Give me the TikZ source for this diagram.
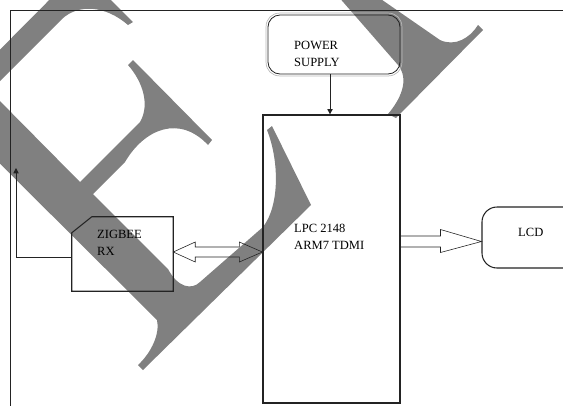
\documentclass[tikz,border=0pt]{standalone}
\usepackage{fontspec}
\setmainfont{Liberation Serif}
\usepackage{tikz}
\usetikzlibrary{positioning,arrows.meta,calc}
\definecolor{markgray}{RGB}{128,128,128}
\definecolor{edgegray}{RGB}{35,35,35}

\begin{document}
\begin{tikzpicture}[x=0.3mm,y=-0.3mm,
    blk/.style={draw=edgegray,line width=0.9pt,inner sep=0pt},
    txt/.style={font=\fontsize{10.7}{14}\selectfont,align=left,inner sep=0pt,anchor=base west},
    thinarrow/.style={draw=edgegray,line width=0.7pt,-{Triangle[width=4.5pt,length=4.5pt]}},
    blockarrow/.style={draw=edgegray,line width=0.5pt,line join=miter}]
    \clip (0,0) rectangle (563,405);

    % watermark letters
    \fill[markgray] (-57,107) -- (157,320) .. controls (160,333) and (152,352) .. (138,365)
      -- (143,370) -- (311,205) -- (272,126) -- (267,130)
      .. controls (279,160) and (280,205) .. (263,227) -- (200,282)
      .. controls (192,290) and (178,288) .. (168,269) -- (93,194) -- (125,162)
      .. controls (145,128) and (180,115) .. (208,145) -- (212,140) -- (133,60) -- (128,65)
      .. controls (143,82) and (150,105) .. (140,122) -- (80,182) -- (-10,91) -- (62,19)
      .. controls (78,4) and (105,5) .. (128,25) -- (133,22) -- (80,-31) -- cycle;
    \fill[markgray] (337,-5) -- (375,-5) -- (440,40) .. controls (455,47) and (470,38) .. (478,25)
      -- (483,30) -- (396,118) -- (388,114) .. controls (400,100) and (410,80) .. (398,65) -- cycle;

    \draw[edgegray,line width=0.6pt] (10,410) -- (10,10) -- (570,10);

    \node[blk,minimum width=39.6mm,minimum height=17.7mm,rounded corners=3.6mm,line width=0.7pt] (ps) at (334,44.5) {};
    \draw[gray!55,line width=0.6pt,rounded corners=4mm] ($(ps.south west)+(-1.5,1.5)$) rectangle ($(ps.north east)+(1.5,-1.5)$);
    \node[blk,line width=1.1pt,minimum width=41.1mm,minimum height=86.4mm] (lpc) at (331.5,259) {};
    \node[inner sep=0pt,minimum width=30.3mm,minimum height=22.2mm] (zig) at (122.5,254) {};
    \draw[edgegray,line width=0.9pt] (zig.south west) -- ($(zig.north west)+(0,16)$)
      -- ($(zig.north west)+(20,0)$) -- (zig.north east) -- (zig.south east) -- cycle;
    \node[blk,rounded corners=4.5mm,minimum width=36mm,minimum height=18.3mm] (lcd) at (542,237.5) {};

    \node[txt] (pslbl) at (294,66) {POWER\\SUPPLY};
    \node[txt] (lpclbl) at (294,249) {LPC 2148\\ARM7 TDMI};
    \node[txt] (ziglbl) at (97,255) {ZIGBEE\\RX};
    \node[txt] (lcdlbl) at (518,236) {LCD};

    \draw[thinarrow] ($(ps.south)+(-4,0)$) -- ($(ps.south |- lpc.north)+(-4,0)$);
    \coordinate (fbtip) at (16,168);
    \draw[thinarrow] ($(zig.west)+(0,3)$) -| (fbtip);

    \coordinate (dl) at ($(zig.east)+(0,-2)$);
    \coordinate (dr) at (lpc.west |- dl);
    \draw[blockarrow] (dl) -- ($(dl)+(22,-10)$) -- ($(dl)+(22,-5)$) -- ($(dr)+(-23,-5)$)
      -- ($(dr)+(-23,-10)$) -- (dr) -- ($(dr)+(-23,10)$) -- ($(dr)+(-23,5)$)
      -- ($(dl)+(22,5)$) -- ($(dl)+(22,10)$) -- cycle;

    \coordinate (ar) at ($(lcd.west)+(0,4)$);
    \coordinate (as) at (lpc.east |- ar);
    \draw[blockarrow] ($(as)+(0,-5.5)$) -- ($(ar)+(-41,-5.5)$) -- ($(ar)+(-41,-12)$) -- (ar)
      -- ($(ar)+(-41,11)$) -- ($(ar)+(-41,5.5)$) -- ($(as)+(0,5.5)$);
\end{tikzpicture}
\end{document}
